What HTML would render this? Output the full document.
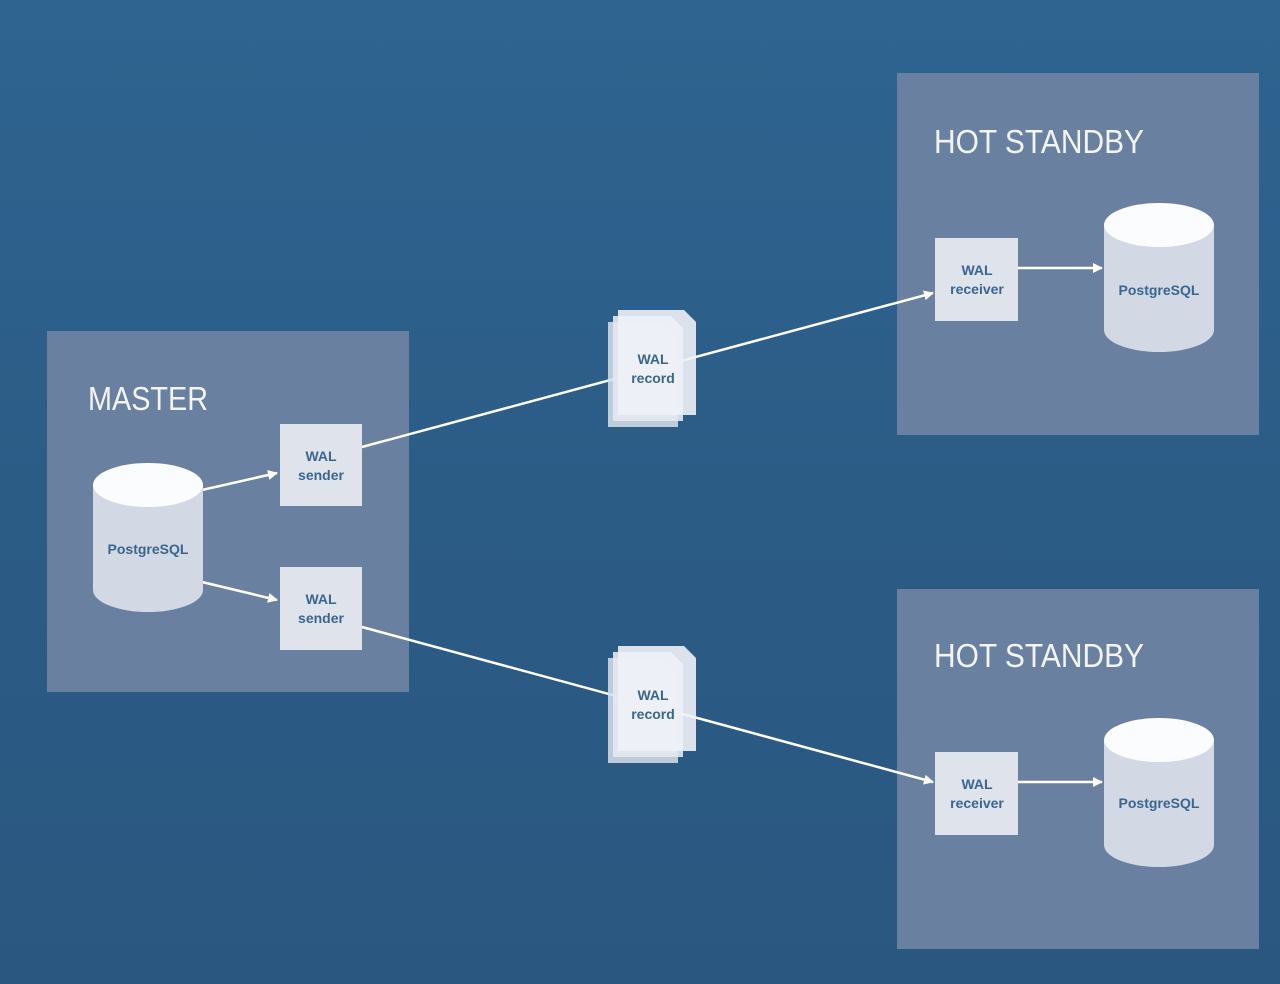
<!DOCTYPE html>
<html><head><meta charset="utf-8"><style>
html,body{margin:0;padding:0;width:1280px;height:984px;overflow:hidden;background:#2c5d86}
svg{display:block}
text{font-family:"Liberation Sans",sans-serif}
</style></head><body>
<svg width="1280" height="984" viewBox="0 0 1280 984" xmlns="http://www.w3.org/2000/svg">
<defs>
<linearGradient id="bg" x1="0" y1="0" x2="0" y2="1">
<stop offset="0" stop-color="#2f6490"/><stop offset="0.5" stop-color="#2b5c86"/><stop offset="1" stop-color="#2a5780"/>
</linearGradient>
<marker id="ar" markerWidth="10" markerHeight="10" refX="9" refY="5" orient="auto" markerUnits="userSpaceOnUse">
<path d="M0,0 L10,5 L0,10 z" fill="#fff"/>
</marker>
<g id="cyl">
<path d="M-55,0 V105 A55,22 0 0 0 55,105 V0 Z" fill="#d3d9e4"/>
<ellipse cx="0" cy="0" rx="55" ry="22" fill="#fbfcfe"/>
</g>
<g id="doc">
<path d="M0,12 H58 L70,24 V117 H0 Z" fill="#d9dfe9" opacity="0.85"/>
<path d="M5,6 H63 L75,18 V111 H5 Z" fill="#e3e8ef" opacity="0.9"/>
<path d="M10,0 H76 L88,12 V105 H10 Z" fill="#eef1f6" opacity="0.9"/>
</g>
</defs>
<rect width="1280" height="984" fill="url(#bg)"/>
<rect x="47" y="331" width="362" height="361" fill="#6a80a1"/>
<rect x="897" y="73" width="362" height="362" fill="#6a80a1"/>
<rect x="897" y="589" width="362" height="360" fill="#6a80a1"/>
<g fill="#f2f4f8" font-size="33">
<text x="88" y="410" textLength="120" lengthAdjust="spacingAndGlyphs">MASTER</text>
<text x="934" y="153" textLength="210" lengthAdjust="spacingAndGlyphs">HOT STANDBY</text>
<text x="934" y="667" textLength="210" lengthAdjust="spacingAndGlyphs">HOT STANDBY</text>
</g>
<g stroke="#fff" stroke-width="2.5" fill="none" marker-end="url(#ar)">
<line x1="202" y1="490" x2="277" y2="473"/>
<line x1="202" y1="582" x2="277" y2="600"/>
<line x1="362" y1="447" x2="933" y2="293"/>
<line x1="362" y1="627" x2="933" y2="782"/>
<line x1="1018" y1="268" x2="1102" y2="268"/>
<line x1="1018" y1="782" x2="1102" y2="782"/>
</g>
<use href="#cyl" x="148" y="485"/>
<use href="#cyl" x="1159" y="225"/>
<use href="#cyl" x="1159" y="740"/>
<use href="#doc" x="608" y="310"/>
<use href="#doc" x="608" y="646"/>
<g fill="#dfe4ec">
<rect x="280" y="424" width="82" height="82"/>
<rect x="280" y="567" width="82" height="83"/>
<rect x="935" y="238" width="83" height="83"/>
<rect x="935" y="752" width="83" height="83"/>
</g>
<g fill="#3a6590" font-size="14" font-weight="bold" text-anchor="middle">
<text x="148" y="554">PostgreSQL</text>
<text x="1159" y="295">PostgreSQL</text>
<text x="1159" y="808">PostgreSQL</text>
<text x="321" y="461">WAL</text><text x="321" y="480">sender</text>
<text x="321" y="604">WAL</text><text x="321" y="623">sender</text>
<text x="977" y="275">WAL</text><text x="977" y="294">receiver</text>
<text x="977" y="789">WAL</text><text x="977" y="808">receiver</text>
<text x="653" y="364">WAL</text><text x="653" y="383">record</text>
<text x="653" y="700">WAL</text><text x="653" y="719">record</text>
</g>
</svg>
</body></html>
